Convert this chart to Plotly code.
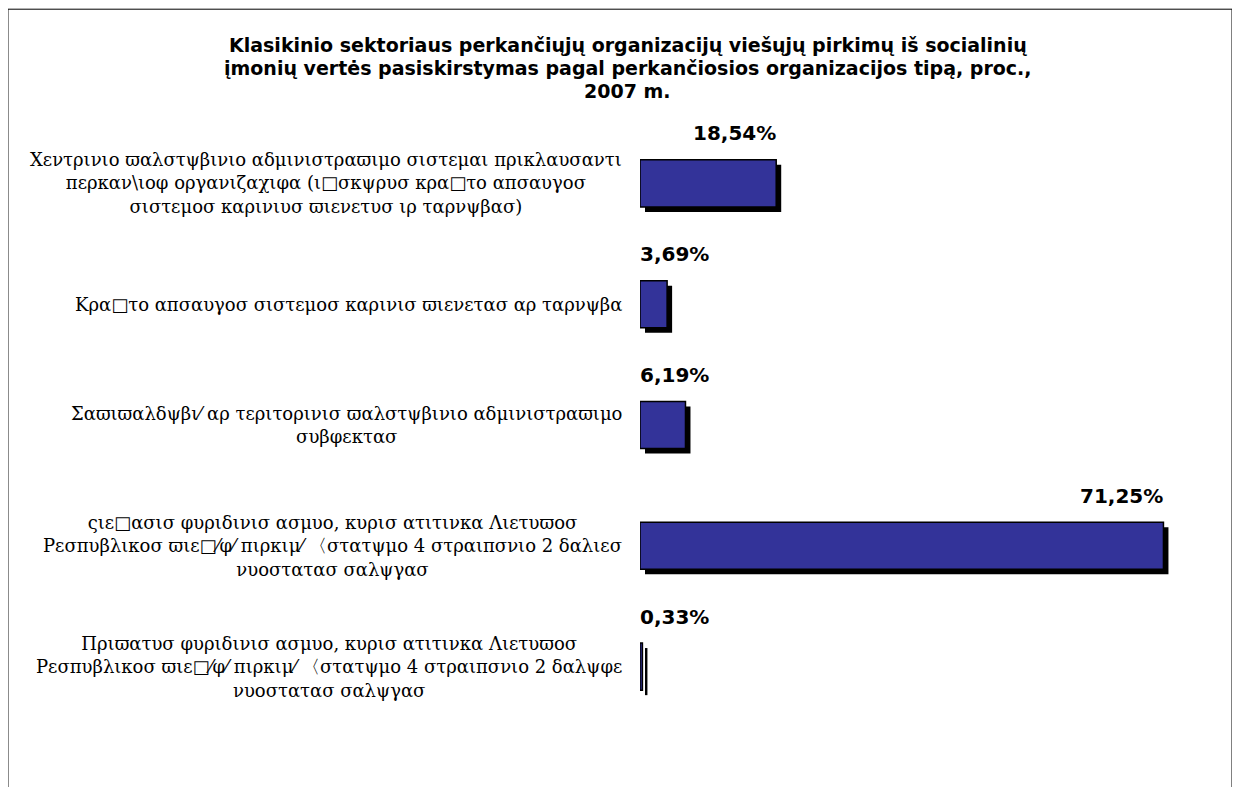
import plotly.graph_objects as go

# ---- data ----
categories = [
    "Χεντρινιο ϖαλστψβινιο αδμινιστραϖιμο σιστεμαι πρικλαυσαντι<br>περκαν\\ιοφ οργανιζαχιφα (ι□σκψρυσ κρα□το απσαυγοσ<br>σιστεμοσ καρινιυσ ϖιενετυσ ιρ ταρνψβασ)",
    "Κρα□το απσαυγοσ σιστεμοσ καρινισ ϖιενετασ αρ ταρνψβα",
    "Σαϖιϖαλδψβι⁄ αρ τεριτορινισ ϖαλστψβινιο αδμινιστραϖιμο<br>συβφεκτασ",
    "ςιε□ασισ φυριδινισ ασμυο, κυρισ ατιτινκα Λιετυϖοσ<br>Ρεσπυβλικοσ ϖιε□⁄φ⁄ πιρκιμ⁄ 〈στατψμο 4 στραιπσνιο 2 δαλιεσ<br>νυοστατασ σαλψγασ",
    "Πριϖατυσ φυριδινισ ασμυο, κυρισ ατιτινκα Λιετυϖοσ<br>Ρεσπυβλικοσ ϖιε□⁄φ⁄ πιρκιμ⁄ 〈στατψμο 4 στραιπσνιο 2 δαλψφε<br>νυοστατασ σαλψγασ",
]
values = [18.54, 3.69, 6.19, 71.25, 0.33]
value_labels = ["18,54%", "3,69%", "6,19%", "71,25%", "0,33%"]
title_lines = [
    "Klasikinio sektoriaus perkančiųjų organizacijų viešųjų pirkimų iš socialinių",
    "įmonių vertės pasiskirstymas pagal perkančiosios organizacijos tipą, proc.,",
    "2007 m.",
]

# ---- layout constants ----
W, H = 1224, 787
L, T = 632, 114.5
XMAX = 75.0
px_per_unit = 523 / 71.25
plot_w = XMAX * px_per_unit
R = W - L - plot_w
n = len(categories)
cat_px = 121
plot_h = n * cat_px
B = H - T - plot_h
bar_w = 0.39
shadow_px = 5
title_y_px = [36, 59, 82]
title_x_px = 620

ids = list(range(n))

fig = go.Figure()
# shadow
fig.add_trace(go.Bar(
    y=ids, x=values, orientation="h",
    base=shadow_px / px_per_unit,
    width=bar_w, offset=-bar_w / 2 + shadow_px / cat_px,
    marker=dict(color="black", line=dict(width=0)),
    hoverinfo="skip", showlegend=False,
))
# main bars
fig.add_trace(go.Bar(
    y=ids, x=values, orientation="h",
    width=bar_w, offset=-bar_w / 2,
    marker=dict(color="#333399", line=dict(color="black", width=1.5)),
    showlegend=False,
))

annotations = []
for line, ypx in zip(title_lines, title_y_px):
    annotations.append(dict(
        x=(title_x_px - L) / plot_w, xref="paper",
        y=1 + (T - ypx) / plot_h, yref="paper",
        text="<b>" + line + "</b>", showarrow=False,
        xanchor="center", yanchor="middle",
        font=dict(family="DejaVu Sans", size=19, color="black"),
    ))
for i, (cat, v, lab) in enumerate(zip(categories, values, value_labels)):
    annotations.append(dict(
        x=0, xref="x domain", y=i, yref="y",
        text=cat, showarrow=False, xanchor="right", yanchor="middle",
        xshift=-16, align="center",
        font=dict(family="DejaVu Serif", size=18, color="black"),
    ))
    big = v > 10
    annotations.append(dict(
        x=v if big else 0, xref="x", y=i, yref="y",
        text="<b>" + lab + "</b>", showarrow=False,
        xanchor="right" if big else "left", yanchor="middle",
        yshift=50, xshift=2 if big else -2,
        font=dict(family="DejaVu Sans", size=20, color="black"),
    ))

fig.update_layout(
    width=W, height=H,
    margin=dict(l=L, r=R, t=T, b=B),
    paper_bgcolor="white", plot_bgcolor="white",
    barmode="overlay",
    xaxis=dict(range=[0, XMAX], visible=False, fixedrange=True),
    yaxis=dict(range=[n - 0.5, -0.5], visible=False, fixedrange=True),
    annotations=annotations,
    shapes=[dict(
        type="rect", xref="paper", yref="paper",
        x0=(0.5 - L) / plot_w, x1=(W - 0.5 - L) / plot_w,
        y0=(-B) / plot_h, y1=(plot_h + T - 0.5) / plot_h,
        line=dict(color="black", width=1), fillcolor="rgba(0,0,0,0)", layer="below",
    )],
)

fig.write_html("out.html")
